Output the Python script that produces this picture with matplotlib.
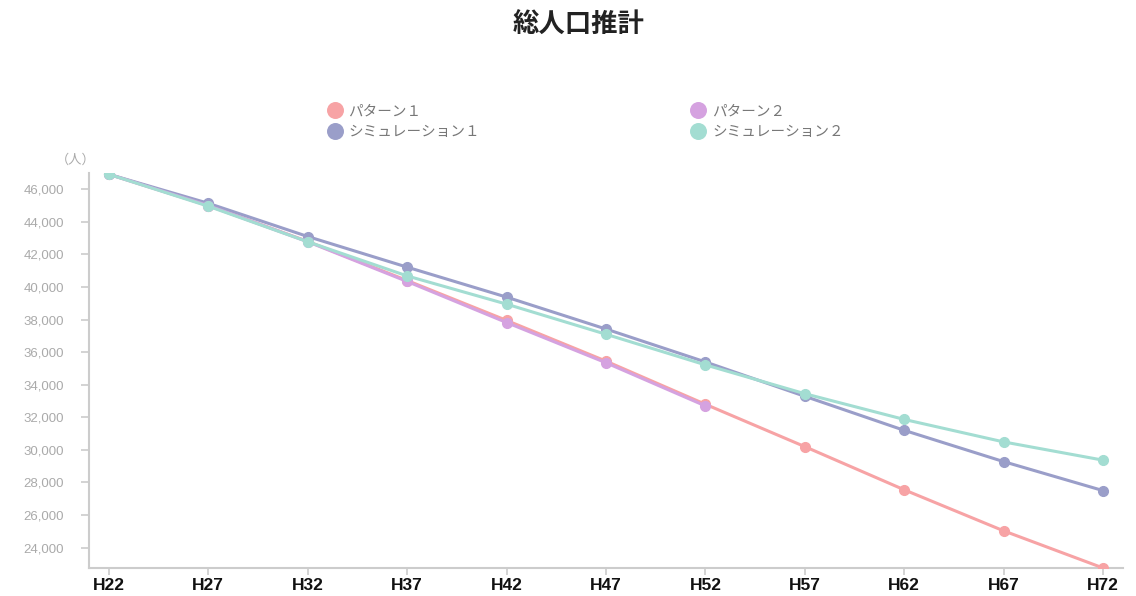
import matplotlib
matplotlib.use("Agg")
import matplotlib.pyplot as plt
from matplotlib.ticker import FuncFormatter

plt.rcParams['font.family'] = ['Noto Sans CJK JP', 'DejaVu Sans']

# 年次ラベル
years = ['H22', 'H27', 'H32', 'H37', 'H42', 'H47', 'H52', 'H57', 'H62', 'H67', 'H72']

# 各シナリオの推計人口
pattern1 = [46920, 45000, 42800, 40400, 37950, 35450, 32800, 30200, 27550, 25030, 22750]
pattern2 = [46920, 45000, 42780, 40340, 37820, 35350, 32700]
simulation1 = [46920, 45140, 43100, 41220, 39380, 37420, 35400, 33290, 31200, 29280, 27500]
simulation2 = [46920, 44960, 42780, 40680, 38950, 37100, 35220, 33450, 31870, 30490, 29370]

series = [
    ('パターン１', pattern1, '#f7a3a5'),
    ('シミュレーション１', simulation1, '#9a9ec9'),
    ('パターン２', pattern2, '#d5a2e0'),
    ('シミュレーション２', simulation2, '#a3ddd2'),
]

fig = plt.figure(figsize=(11.36, 5.96), dpi=100)
ax = fig.add_axes([89 / 1136, 1 - 568 / 596, (1123 - 89) / 1136, (568 - 173) / 596])

for name, vals, col in series:
    ax.plot(range(len(vals)), vals, color=col, linewidth=2.2, marker='o',
            markersize=7, label=name, zorder=3)

ax.set_xlim(-0.2, len(years) - 1 + 0.2)
ax.set_ylim(22750, 47000)
ax.set_xticks(range(len(years)))
ax.set_xticklabels(years, fontfamily='Liberation Sans', fontweight='bold',
                   fontsize=12.5, color='#111111')
ax.set_yticks(range(24000, 46001, 2000))
ax.yaxis.set_major_formatter(FuncFormatter(lambda v, p: f'{int(v):,}'))
ax.tick_params(axis='y', labelsize=9.5, labelcolor='#aaaaaa', color='#cccccc',
               length=6, width=1.2, pad=12)
ax.tick_params(axis='x', color='#cccccc', length=5, width=1.2, pad=2)
for lbl in ax.get_yticklabels():
    lbl.set_fontfamily('Liberation Sans')

for side in ['top', 'right']:
    ax.spines[side].set_visible(False)
for side in ['left', 'bottom']:
    ax.spines[side].set_color('#cccccc')
    ax.spines[side].set_linewidth(1.5)

ax.text(-0.013, 1.015, '（人）', transform=ax.transAxes, ha='center', va='bottom',
        fontsize=9.5, color='#aaaaaa')

fig.suptitle('総人口推計', x=0.509, y=0.98, fontsize=19, fontweight='bold',
             color='#222222')

leg = fig.legend(loc='upper left', bbox_to_anchor=(315 / 1136, 1 - 91 / 596), ncol=2,
                 frameon=False, fontsize=10.5, labelcolor='#777777',
                 columnspacing=14.5, handlelength=0.9, handletextpad=0.5,
                 labelspacing=0.5, markerscale=1.6)
for h in leg.legend_handles:
    h.set_linestyle('')

plt.savefig('out.png', dpi=100)
